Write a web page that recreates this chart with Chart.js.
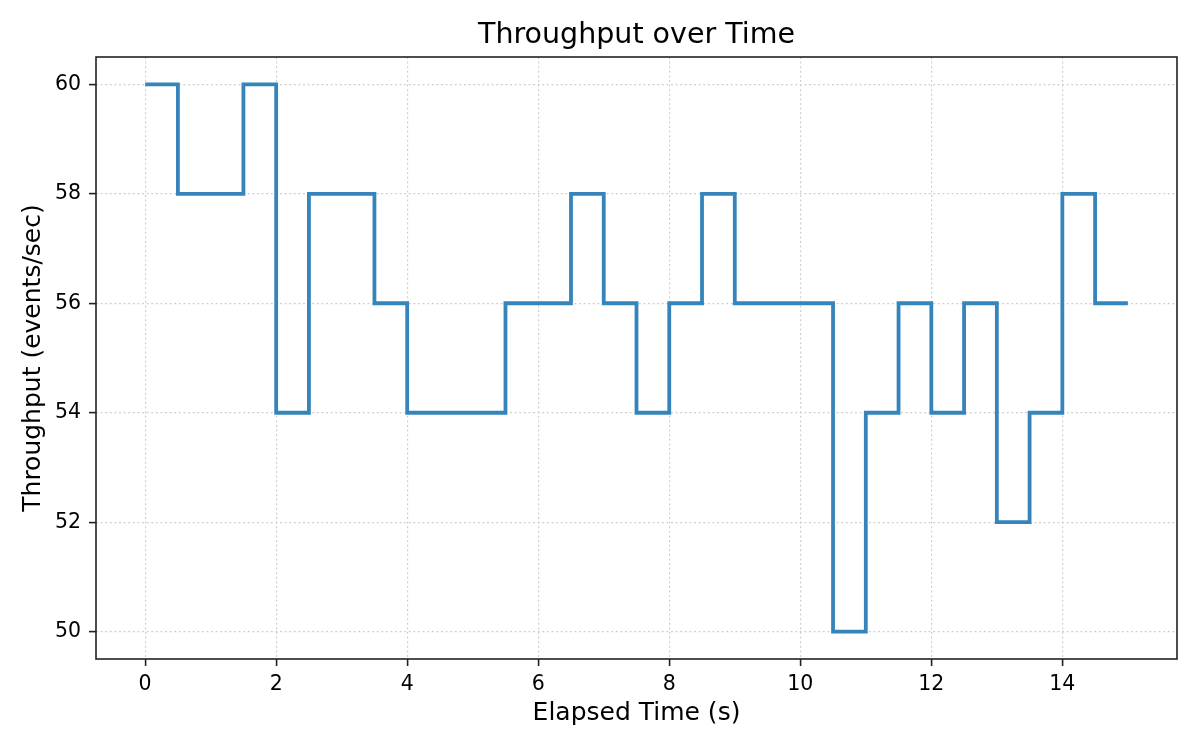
<!DOCTYPE html>
<html>
<head>
<meta charset="utf-8">
<script src="https://cdn.jsdelivr.net/npm/chart.js@4/dist/chart.umd.min.js"></script>
<style>
  html, body { margin: 0; padding: 0; background: #fff; }
  #wrap { width: 1200px; height: 750px; }
</style>
</head>
<body>
<div id="wrap"><canvas id="chart" width="1200" height="750"></canvas></div>
<script>
// ── Data ──────────────────────────────────────────────────────────
const times = [0, 0.5, 1, 1.5, 2, 2.5, 3, 3.5, 4, 4.5, 5, 5.5, 6, 6.5, 7, 7.5,
               8, 8.5, 9, 9.5, 10, 10.5, 11, 11.5, 12, 12.5, 13, 13.5, 14, 14.5, 15];
const throughput = [60, 58, 58, 60, 54, 58, 58, 56, 54, 54, 54, 56, 56, 58, 56, 54,
                    56, 58, 56, 56, 56, 50, 54, 56, 54, 56, 52, 54, 58, 56, 56];
const xTicks = [0, 2, 4, 6, 8, 10, 12, 14];
const yTicks = [50, 52, 54, 56, 58, 60];
const chartTitle = "Throughput over Time";

const FONT = "'DejaVu Sans', sans-serif";

// ── Frame around the plot area + title centred over it ────────────
const framePlugin = {
  id: "frame",
  afterDraw(chart) {
    const { ctx, chartArea: a } = chart;
    ctx.save();
    ctx.strokeStyle = "#222";
    ctx.lineWidth = 1.6;
    ctx.setLineDash([]);
    ctx.strokeRect(a.left, a.top, a.right - a.left, a.bottom - a.top);

    ctx.fillStyle = "#000";
    ctx.font = `28.5px ${FONT}`;
    ctx.textAlign = "center";
    ctx.textBaseline = "middle";
    ctx.fillText(chartTitle, (a.left + a.right) / 2, 36);
    ctx.restore();
  }
};

const gridOpts = {
  color: "#cfcfcf",
  lineWidth: 1.2,
  tickColor: "#222",
  tickLength: 7,
  tickWidth: 1.6,
  tickBorderDash: [],
};
const borderOpts = { display: false, dash: [2, 2.6] };

new Chart(document.getElementById("chart"), {
  type: "line",
  data: {
    datasets: [{
      data: times.map((t, i) => ({ x: t, y: throughput[i] })),
      borderColor: "#3585bc",
      borderWidth: 3.8,
      stepped: "before",
      pointRadius: 0,
      fill: false,
    }]
  },
  options: {
    responsive: false,
    animation: false,
    layout: { padding: { left: 0, right: 23, top: 57, bottom: 0 } },
    plugins: {
      legend: { display: false },
      tooltip: { enabled: false },
      title: { display: false },
    },
    scales: {
      x: {
        type: "linear",
        min: -0.75, max: 15.75,
        grid: gridOpts,
        border: borderOpts,
        afterBuildTicks: s => { s.ticks = xTicks.map(v => ({ value: v })); },
        afterFit: s => { s.height = 91; },
        ticks: { color: "#000", font: { family: FONT, size: 20.5 }, padding: 6, maxRotation: 0 },
        title: {
          display: true, text: "Elapsed Time (s)", color: "#000",
          font: { family: FONT, size: 25 }, padding: { top: 0, bottom: 22 },
        },
      },
      y: {
        min: 49.5, max: 60.5,
        grid: gridOpts,
        border: borderOpts,
        afterBuildTicks: s => { s.ticks = yTicks.map(v => ({ value: v })); },
        afterFit: s => { s.width = 96; },
        ticks: { color: "#000", font: { family: FONT, size: 20.5 }, padding: 8 },
        title: {
          display: true, text: "Throughput (events/sec)", color: "#000",
          font: { family: FONT, size: 25 }, padding: { top: 18, bottom: 0 },
        },
      },
    },
  },
  plugins: [framePlugin],
});
</script>
</body>
</html>
